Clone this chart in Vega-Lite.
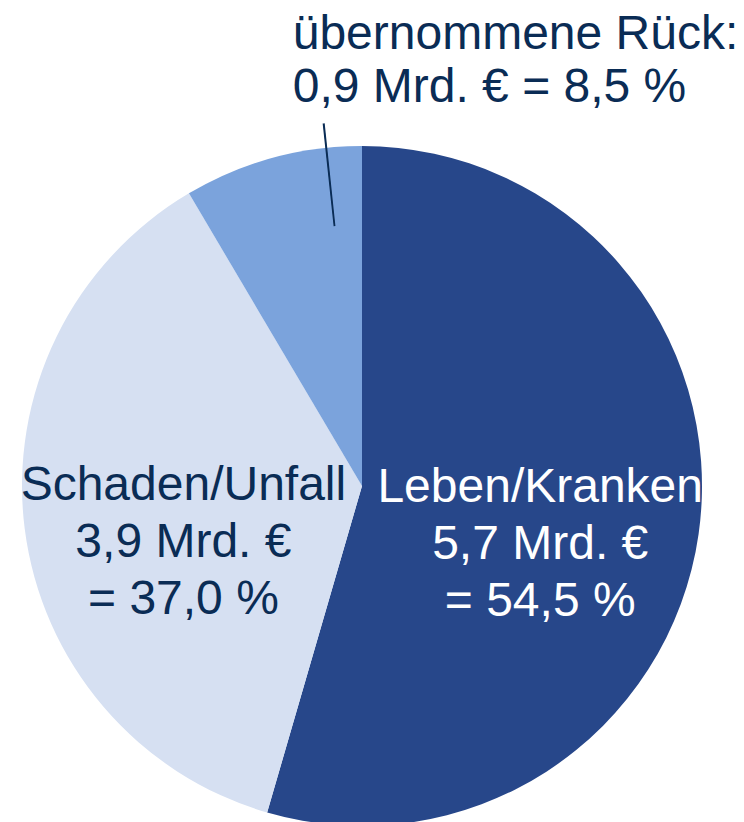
{
  "$schema": "https://vega.github.io/schema/vega-lite/v6.json",
  "width": 724,
  "height": 972,
  "padding": {"left": 0, "top": 0, "right": 20, "bottom": 0},
  "autosize": {"type": "none"},
  "background": "white",
  "config": {"view": {"stroke": null}, "font": "Liberation Sans"},
  "data": {
    "values": [
      {"segment": "Leben/Kranken", "value": 5.7, "pct": 54.5, "ord": 1, "lines": ["Leben/Kranken", "5,7 Mrd. €", "= 54,5 %"]},
      {"segment": "Schaden/Unfall", "value": 3.9, "pct": 37.0, "ord": 2, "lines": ["Schaden/Unfall", "3,9 Mrd. €", "= 37,0 %"]},
      {"segment": "übernommene Rück", "value": 0.9, "pct": 8.5, "ord": 3, "lines": ["übernommene Rück:", "0,9 Mrd. € = 8,5 %"]}
    ]
  },
  "layer": [
    {
      "mark": {"type": "arc", "radius": 340, "stroke": null},
      "encoding": {
        "theta": {"field": "pct", "type": "quantitative", "stack": true},
        "order": {"field": "ord", "type": "quantitative"},
        "color": {
          "field": "segment",
          "type": "nominal",
          "scale": {"domain": ["Leben/Kranken", "Schaden/Unfall", "übernommene Rück"], "range": ["#27478A", "#D6E0F2", "#7BA3DC"]},
          "legend": null
        }
      }
    },
    {
      "mark": {"type": "text", "radius": 180, "dy": -23, "fontSize": 48, "lineHeight": 57, "align": "center", "baseline": "middle"},
      "encoding": {
        "theta": {"field": "pct", "type": "quantitative", "stack": true},
        "order": {"field": "ord", "type": "quantitative"},
        "text": {"condition": {"test": "datum.ord < 3", "field": "lines"}, "value": "", "type": "nominal"},
        "color": {"condition": {"test": "datum.ord === 1", "value": "#FFFFFF"}, "value": "#0A2C55"}
      }
    },
    {
      "mark": {"type": "text", "radius": 399, "dx": 36, "dy": -52, "fontSize": 48, "lineHeight": 53, "align": "left", "baseline": "alphabetic", "color": "#0A2C55"},
      "encoding": {
        "theta": {"field": "pct", "type": "quantitative", "stack": true},
        "order": {"field": "ord", "type": "quantitative"},
        "text": {"condition": {"test": "datum.ord === 3", "field": "lines"}, "value": "", "type": "nominal"}
      }
    },
    {
      "data": {"values": [{"segment": "übernommene Rück", "part": "leader"}]},
      "mark": {"type": "arc", "theta": 6.1767, "theta2": 6.1790, "radius": 262, "radius2": 364, "fill": "#0A2C55", "stroke": "#0A2C55", "strokeWidth": 1.2},
      "encoding": {}
    }
  ]
}
